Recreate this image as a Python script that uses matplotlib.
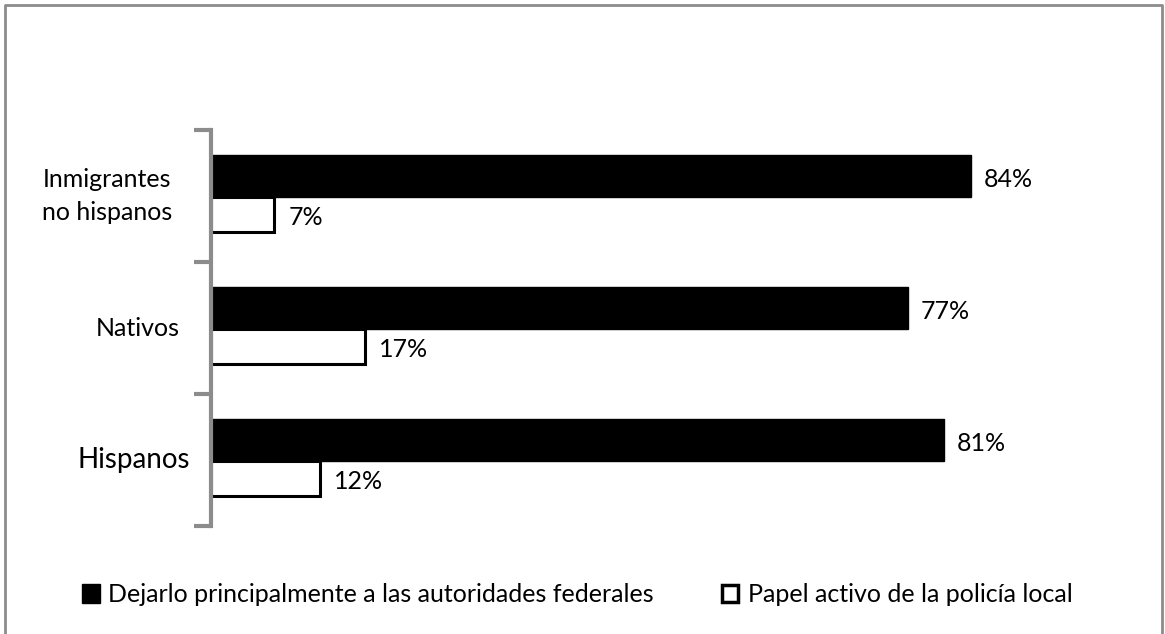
import matplotlib.pyplot as plt
from matplotlib.patches import Rectangle
from matplotlib.transforms import blended_transform_factory

# Data (bottom to top)
categories = ["Hispanos", "Nativos", "Inmigrantes\nno hispanos"]
federal = [81, 77, 84]
local = [12, 17, 7]
series_names = ["Dejarlo principalmente a las autoridades federales",
                "Papel activo de la policía local"]

plt.rcParams['font.family'] = ['Lato', 'DejaVu Sans']

fig = plt.figure(figsize=(11.65, 6.34), dpi=100)
ax = fig.add_axes([211 / 1165, 108 / 634, 889 / 1165, 396 / 634])

pos = list(range(len(categories)))
ax.barh([p - 0.008 for p in pos], federal, height=0.318, align='edge',
        color='black', edgecolor='black', linewidth=1)
ax.barh([p - 0.008 for p in pos], local, height=-0.265, align='edge',
        color='white', edgecolor='black', linewidth=2.2)

for p, v in zip(pos, federal):
    ax.text(v + 1.4, p + 0.125, f"{v}%", va='center', ha='left', fontsize=18)
for p, v in zip(pos, local):
    ax.text(v + 1.6, p - 0.165, f"{v}%", va='center', ha='left', fontsize=18)

ax.set_xlim(0, 98.2)
ax.set_ylim(-0.5, 2.5)
ax.set_xticks([])
ax.set_yticks([-0.5, 0.5, 1.5, 2.5])
ax.set_yticklabels([])
ax.tick_params(axis='y', length=12, width=3, color='#8c8c8c', direction='out')
for s in ['top', 'right', 'bottom']:
    ax.spines[s].set_visible(False)
ax.spines['left'].set_color('#8c8c8c')
ax.spines['left'].set_linewidth(3)

# category labels
trans = blended_transform_factory(fig.transFigure, ax.transData)
label_x = [134, 138, 107]
label_size = [20, 18, 18]
for p, c, lx, fs in zip(pos, categories, label_x, label_size):
    ax.text(lx / 1165, p, c, transform=trans, ha='center', va='center',
            fontsize=fs, linespacing=1.5)

# legend drawn by hand to match the original placement
fig.patches.append(Rectangle((82 / 1165, 1 - 603 / 634), 18 / 1165, 19 / 634,
                             transform=fig.transFigure, facecolor='black',
                             edgecolor='black', linewidth=1))
fig.text(108 / 1165, 1 - 594 / 634, series_names[0], va='center', ha='left', fontsize=18)
fig.patches.append(Rectangle((722 / 1165, 1 - 602 / 634), 16 / 1165, 17 / 634,
                             transform=fig.transFigure, facecolor='white',
                             edgecolor='black', linewidth=2.5))
fig.text(748 / 1165, 1 - 594 / 634, series_names[1], va='center', ha='left', fontsize=18)

# outer frame (bottom edge is off the picture)
fig.add_artist(plt.Line2D([5 / 1165, 5 / 1165, 1162 / 1165, 1162 / 1165],
                          [0, 1 - 5 / 634, 1 - 5 / 634, 0],
                          transform=fig.transFigure, color='#8c8c8c', linewidth=2))

fig.savefig("out.png", dpi=100)
